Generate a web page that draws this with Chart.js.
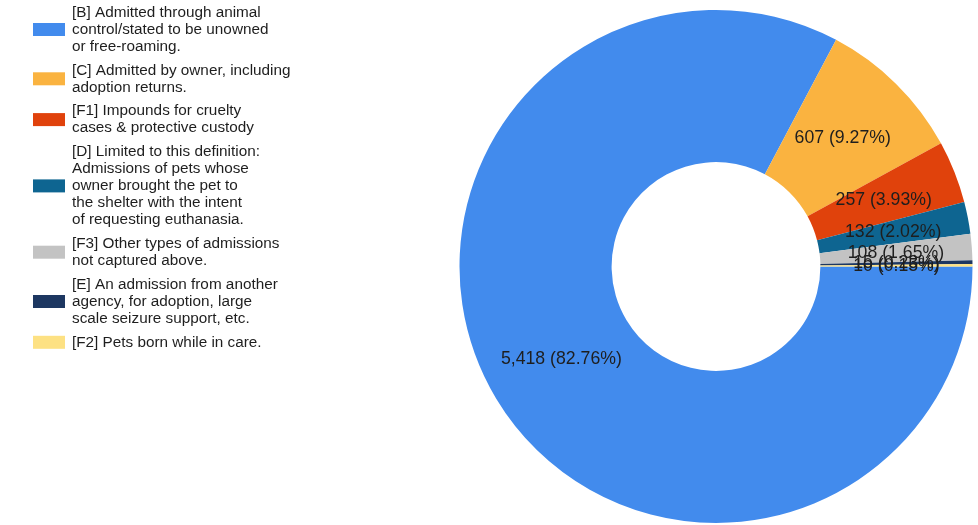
<!DOCTYPE html>
<html>
<head>
<meta charset="utf-8">
<script src="https://cdn.jsdelivr.net/npm/chart.js@4/dist/chart.umd.min.js"></script>
<style>
  html, body { margin: 0; padding: 0; background: #ffffff; }
  #wrap { width: 978px; height: 525px; position: relative; }
</style>
</head>
<body>
<div id="wrap"><canvas id="c"></canvas></div>
<script>
// ---- data ----
const categories = [
  ["[B] Admitted through animal", "control/stated to be unowned", "or free-roaming."],
  ["[C] Admitted by owner, including", "adoption returns."],
  ["[F1] Impounds for cruelty", "cases & protective custody"],
  ["[D] Limited to this definition:", "Admissions of pets whose", "owner brought the pet to", "the shelter with the intent", "of requesting euthanasia."],
  ["[F3] Other types of admissions", "not captured above."],
  ["[E] An admission from another", "agency, for adoption, large", "scale seizure support, etc."],
  ["[F2] Pets born while in care."]
];
const admissions = [5418, 607, 257, 132, 108, 15, 10];
const sliceColors = ["#428bed", "#fab340", "#e0420c", "#0e6591", "#c3c3c3", "#1d3761", "#fde183"];

const FONT = "'Liberation Sans', Arial, sans-serif";
const total = admissions.reduce((a, b) => a + b, 0);

const sliceLabels = {
  id: 'sliceLabels',
  afterDatasetsDraw(chart) {
    const ctx = chart.ctx;
    const meta = chart.getDatasetMeta(0);
    const vals = chart.data.datasets[0].data;
    ctx.save();
    ctx.font = "17.7px " + FONT;
    ctx.fillStyle = "#1e1e1e";
    ctx.textAlign = "center";
    ctx.textBaseline = "middle";
    meta.data.forEach((arc, i) => {
      const p = arc.tooltipPosition();
      const v = vals[i];
      const txt = v.toLocaleString('en-US') + " (" + (v / total * 100).toFixed(2) + "%)";
      ctx.fillText(txt, p.x, p.y);
    });
    ctx.restore();
  }
};

const sideLegend = {
  id: 'sideLegend',
  afterDraw(chart) {
    const ctx = chart.ctx;
    const labels = chart.data.labels;
    const colors = chart.data.datasets[0].backgroundColor;
    const lineH = 17, gap = 6.8, boxX = 33, boxW = 32, boxH = 13, textX = 72;
    let top = 4;
    ctx.save();
    ctx.font = "15.3px " + FONT;
    ctx.textAlign = "left";
    ctx.textBaseline = "middle";
    labels.forEach((lines, i) => {
      const h = lines.length * lineH;
      const cy = top + h / 2;
      ctx.fillStyle = colors[i];
      ctx.fillRect(boxX, cy - boxH / 2, boxW, boxH);
      ctx.fillStyle = "#1e1e1e";
      lines.forEach((ln, j) => {
        ctx.fillText(ln, textX, top + lineH / 2 + j * lineH);
      });
      top += h + gap;
    });
    ctx.restore();
  }
};

new Chart(document.getElementById('c'), {
  type: 'doughnut',
  data: {
    labels: categories,
    datasets: [{
      data: admissions,
      backgroundColor: sliceColors,
      borderWidth: 0
    }]
  },
  options: {
    responsive: true,
    maintainAspectRatio: false,
    animation: false,
    rotation: 90,
    cutout: '40.7%',
    layout: { padding: { left: 459.5, right: 5.5, top: 10, bottom: 2 } },
    plugins: {
      legend: { display: false },
      tooltip: { enabled: false }
    }
  },
  plugins: [sliceLabels, sideLegend]
});
</script>
</body>
</html>
